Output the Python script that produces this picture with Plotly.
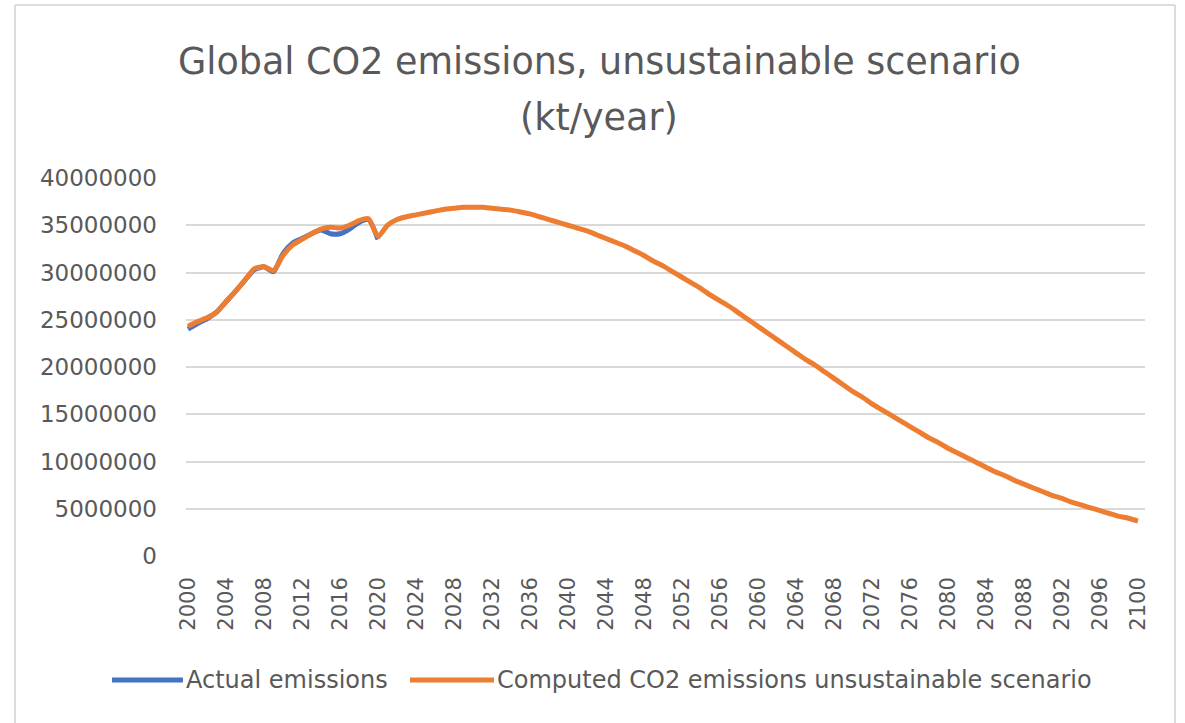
import plotly.graph_objects as go

# ---------------- data ----------------
title_line1 = "Global CO2 emissions, unsustainable scenario"
title_line2 = "(kt/year)"
actual_name = "Actual emissions"
computed_name = "Computed CO2 emissions unsustainable scenario"

actual_years = list(range(2000, 2021))
actual_values = [
    24.0, 24.6, 25.1, 25.8, 26.9, 28.0, 29.2, 30.3, 30.6, 30.1,
    32.0, 33.1, 33.6, 34.1, 34.5, 34.1, 34.1, 34.6, 35.3, 35.6, 33.5,
]

computed_years = list(range(2000, 2101))
computed_values = [
    24.3, 24.8, 25.2, 25.8, 26.9, 28.0, 29.2, 30.4, 30.6, 30.2,   # 2000-2009
    31.8, 32.9, 33.5, 34.1, 34.6, 34.8, 34.7, 35.0, 35.5, 35.7,   # 2010-2019
    33.8, 35.0, 35.6, 35.9, 36.1, 36.3, 36.5, 36.7, 36.8, 36.9,   # 2020-2029
    36.9, 36.9, 36.8, 36.7, 36.6, 36.4, 36.2, 35.9, 35.6, 35.3,   # 2030-2039
    35.0, 34.7, 34.4, 34.0, 33.6, 33.2, 32.8, 32.3, 31.8, 31.2,   # 2040-2049
    30.7, 30.1, 29.5, 28.9, 28.3, 27.6, 27.0, 26.4, 25.7, 25.0,   # 2050-2059
    24.3, 23.6, 22.9, 22.2, 21.5, 20.8, 20.2, 19.5, 18.8, 18.1,   # 2060-2069
    17.4, 16.8, 16.1, 15.5, 14.9, 14.3, 13.7, 13.1, 12.5, 12.0,   # 2070-2079
    11.4, 10.9, 10.4, 9.9, 9.4, 8.9, 8.5, 8.0, 7.6, 7.2,          # 2080-2089
    6.8, 6.4, 6.1, 5.7, 5.4, 5.1, 4.8, 4.5, 4.2, 4.0,             # 2090-2099
    3.7,                                                           # 2100
]
unit = 1_000_000  # values above are in millions of kt

x_tick_years = list(range(2000, 2101, 4))
y_tick_values = list(range(0, 40_000_001, 5_000_000))

# ---------------- style ----------------
BLUE = "#4472C4"
ORANGE = "#ED7D31"
GREY_TEXT = "#595959"
GRID = "#D9D9D9"
FONT = "DejaVu Sans"

fig = go.Figure()
fig.add_trace(go.Scatter(
    x=actual_years, y=[v * unit for v in actual_values],
    mode="lines", name=actual_name,
    line=dict(color=BLUE, width=5, shape="spline", smoothing=0.6),
    showlegend=False,
))
fig.add_trace(go.Scatter(
    x=computed_years, y=[v * unit for v in computed_values],
    mode="lines", name=computed_name,
    line=dict(color=ORANGE, width=5, shape="spline", smoothing=0.6),
    showlegend=False,
))

W, H = 1185, 723
L, R, T, B = 186, 40, 178, 167

fig.update_layout(
    width=W, height=H,
    margin=dict(l=L, r=R, t=T, b=B),
    paper_bgcolor="white", plot_bgcolor="white",
    font=dict(family=FONT, color=GREY_TEXT, size=22),
)
fig.update_xaxes(
    range=[1999.79, 2100.74],
    tickmode="array", tickvals=x_tick_years, ticktext=[str(y) for y in x_tick_years],
    tickangle=-90, showgrid=False, zeroline=False, showline=False,
    ticks="", ticklabelstandoff=16,
    tickfont=dict(size=21, color=GREY_TEXT, family=FONT),
)
fig.update_yaxes(
    range=[0, 40_000_000],
    tickmode="array", tickvals=y_tick_values, ticktext=[str(v) for v in y_tick_values],
    showgrid=True, gridcolor=GRID, gridwidth=1.5, zeroline=False, showline=False,
    ticks="", ticklabelstandoff=28,
    tickfont=dict(size=23, color=GREY_TEXT, family=FONT),
)


def px_x(p):
    return (p - L) / (W - L - R)


def px_y(p):
    return (H - B - p) / (H - T - B)


# title (two lines, Excel-like line spacing)
for text, cy in ((title_line1, 61), (title_line2, 118)):
    fig.add_annotation(xref="paper", yref="paper", x=px_x(599), y=px_y(cy),
                       text=text, showarrow=False, xanchor="center", yanchor="middle",
                       font=dict(family=FONT, size=36.5, color=GREY_TEXT))

# chart frame (top, left, right edges)
frame = dict(color="#D0D0D0", width=1.5)
fig.add_shape(type="line", xref="paper", yref="paper",
              x0=px_x(15), x1=px_x(1175), y0=px_y(5), y1=px_y(5), line=frame)
for px in (15, 1175):
    fig.add_shape(type="line", xref="paper", yref="paper",
                  x0=px_x(px), x1=px_x(px), y0=px_y(5), y1=px_y(730), line=frame)

# manual legend (long line samples like the original)
legend_y = 680
for color, name, x0, x1 in ((BLUE, actual_name, 112, 183), (ORANGE, computed_name, 410, 494)):
    fig.add_shape(type="line", xref="paper", yref="paper",
                  x0=px_x(x0), x1=px_x(x1), y0=px_y(legend_y), y1=px_y(legend_y),
                  line=dict(color=color, width=5))
    fig.add_annotation(xref="paper", yref="paper", x=px_x(x1 + 1), y=px_y(legend_y),
                       text=name, showarrow=False, xanchor="left", yanchor="middle",
                       font=dict(family=FONT, size=24, color=GREY_TEXT))

fig.write_html("out.html")
